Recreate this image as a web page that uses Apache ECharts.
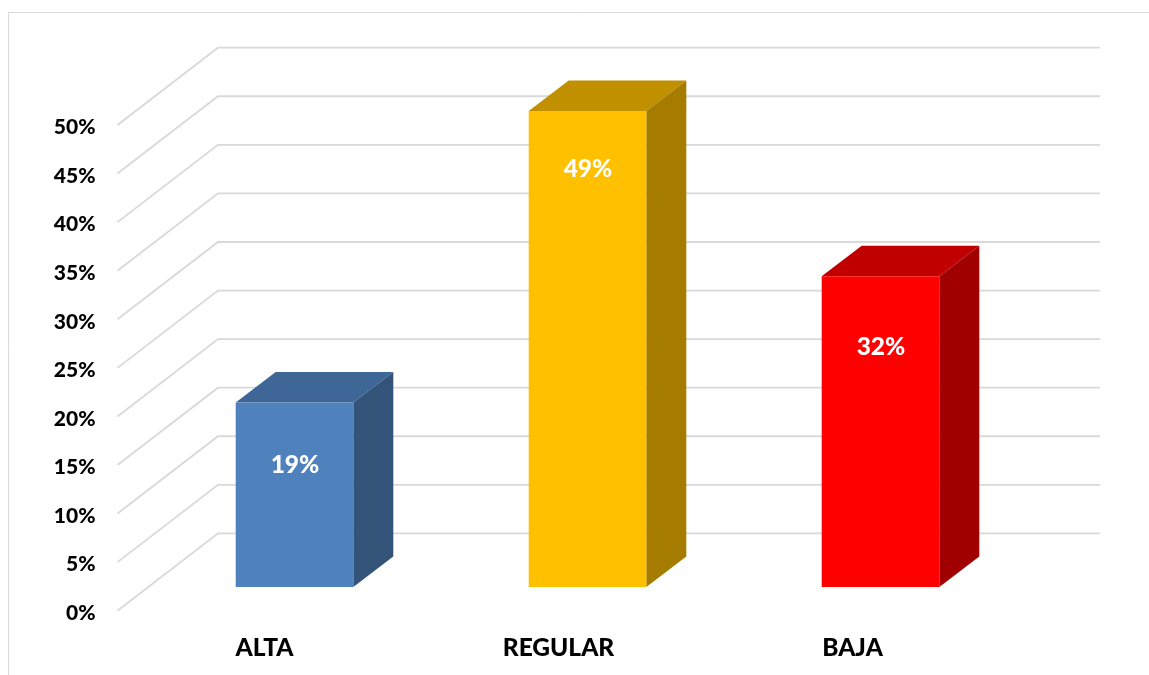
<!DOCTYPE html>
<html>
<head>
<meta charset="utf-8">
<style>
  html, body { margin: 0; padding: 0; background: #fff; }
  #main { width: 1149px; height: 675px; }
</style>
<script src="https://cdn.jsdelivr.net/npm/echarts@6/dist/echarts.min.js"></script>
</head>
<body>
<div id="main"></div>
<script>
const categories = ['ALTA', 'REGULAR', 'BAJA'];
const values = [19, 49, 32];
const yTicks = [0, 5, 10, 15, 20, 25, 30, 35, 40, 45, 50];
const frontColors = ['#4f81bd', '#ffc000', '#ff0000'];
const topColors = ['#3e6696', '#c09000', '#c00000'];
const sideColors = ['#335379', '#a67c00', '#a00000'];

// fake 3D: how far the wall sits behind the axis plane, and where the bars stand
const wallDx = 100.5, wallDy = -77.3;
const barDx = 30, barDy = -23.7;
const depthDx = 40, depthDy = -30.5;
// bars in the original step 1px tighter than the axis labels
const barSlip = 1;
// the labels in the original were placed by hand, px below the top of each bar
const labelDrop = [63, 58, 71];

const font = 'Lato';
const myChart = echarts.init(document.getElementById('main'), null, { renderer: 'canvas' });

function renderGrid(params, api) {
  const y = api.coord([0, api.value(0)])[1];
  const cs = params.coordSys;
  return {
    type: 'polyline',
    shape: {
      points: [
        [cs.x, y],
        [cs.x + wallDx, y + wallDy],
        [cs.x + wallDx + cs.width, y + wallDy]
      ]
    },
    style: { fill: 'none', stroke: '#d9d9d9', lineWidth: 1.8 }
  };
}

function renderBar(params, api) {
  const i = api.value(0);
  const val = api.value(1);
  const top = api.coord([i, val]);
  const base = api.coord([i, 0]);
  const w = api.size([1, 0])[0] * 0.4;
  const x0 = top[0] - w / 2 + barDx - barSlip * i;
  const x1 = x0 + w;
  const y0 = top[1] + barDy;
  const y1 = base[1] + barDy;
  return {
    type: 'group',
    children: [
      {
        type: 'polygon',
        shape: { points: [[x0, y0], [x0 + depthDx, y0 + depthDy], [x1 + depthDx, y0 + depthDy], [x1, y0]] },
        style: { fill: topColors[i] }
      },
      {
        type: 'polygon',
        shape: { points: [[x1, y0], [x1 + depthDx, y0 + depthDy], [x1 + depthDx, y1 + depthDy], [x1, y1]] },
        style: { fill: sideColors[i] }
      },
      {
        type: 'rect',
        shape: { x: x0, y: y0, width: w, height: y1 - y0 },
        style: { fill: frontColors[i] }
      },
      {
        type: 'text',
        style: {
          x: (x0 + x1) / 2 + 0.5,
          y: y0 + labelDrop[i],
          text: val + '%',
          fill: '#fff',
          font: '900 24.5px ' + font,
          align: 'center',
          verticalAlign: 'middle'
        }
      }
    ]
  };
}

const option = {
  animation: false,
  backgroundColor: '#fff',
  graphic: [
    {
      type: 'rect',
      silent: true,
      shape: { x: 8.5, y: 12.5, width: 1300, height: 800 },
      style: { fill: 'none', stroke: '#d9d9d9', lineWidth: 1 }
    }
  ],
  grid: { left: 117.5, top: 125, width: 882, height: 485.7 },
  xAxis: {
    type: 'category',
    data: categories,
    axisLine: { show: false },
    axisTick: { show: false },
    axisLabel: { color: '#000', fontFamily: font, fontWeight: 900, fontSize: 24.5, margin: 25 }
  },
  yAxis: {
    type: 'value',
    min: 0,
    max: 50,
    interval: 5,
    splitLine: { show: false },
    axisLine: { show: false },
    axisTick: { show: false },
    axisLabel: {
      formatter: '{t|{value}%}',
      margin: 22,
      rich: {
        t: {
          color: '#000',
          fontFamily: font,
          fontWeight: 900,
          fontSize: 21,
          padding: [5, 0, 0, 0]
        }
      }
    }
  },
  series: [
    {
      type: 'custom',
      renderItem: renderGrid,
      coordinateSystem: 'cartesian2d',
      encode: { y: 0 },
      clip: false,
      silent: true,
      data: yTicks.map(t => [t])
    },
    {
      type: 'custom',
      renderItem: renderBar,
      coordinateSystem: 'cartesian2d',
      encode: { x: 0, y: 1 },
      clip: false,
      z: 3,
      data: values.map((v, i) => [i, v])
    }
  ]
};
option && myChart.setOption(option);
</script>
</body>
</html>
